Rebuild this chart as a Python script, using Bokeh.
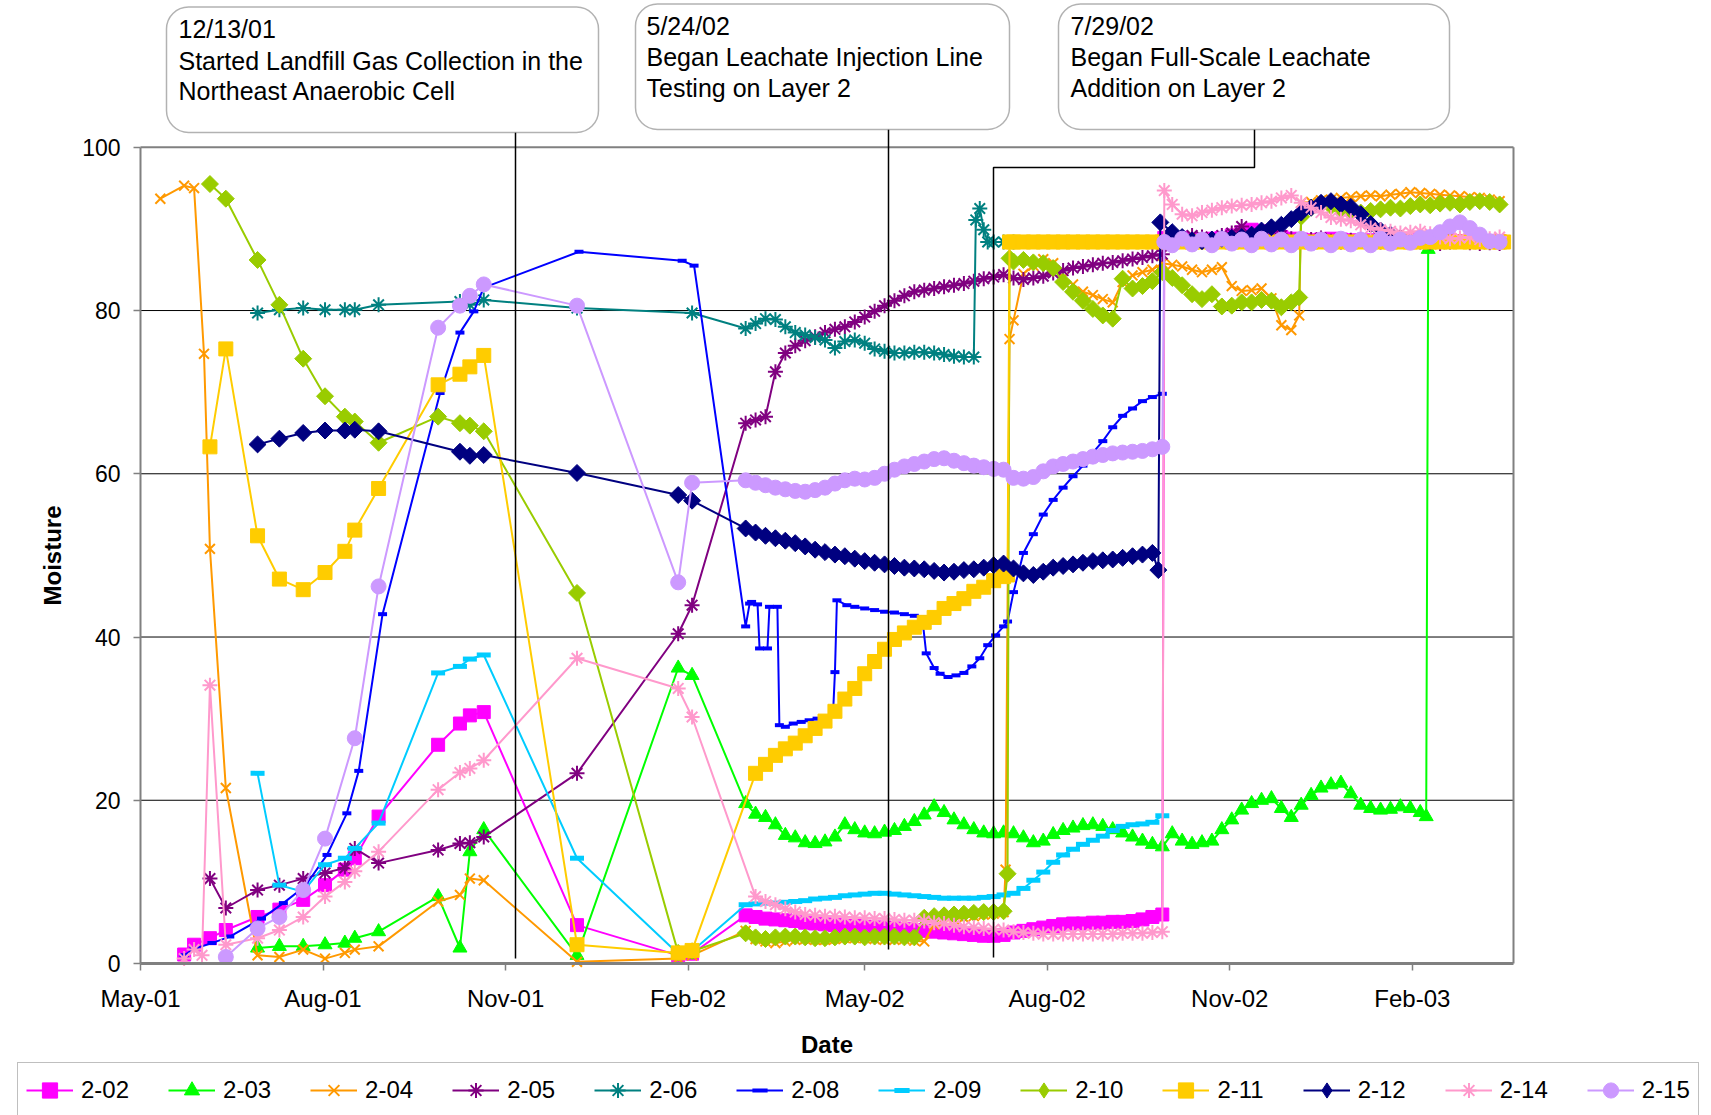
import numpy as np
import pandas as pd
from bokeh.plotting import figure
from bokeh.models import (Range1d, FixedTicker, DatetimeTickFormatter, Legend,
                          LegendItem, BoxAnnotation, Label)
from bokeh.embed import file_html
from bokeh.resources import INLINE

# ------------------------------------------------------------------ data
# x values are sample days counted from START_DATE
START_DATE = "2001-05-01"
AXIS_END_DAY = 692
TICK_DATES = ["2001-05-01", "2001-08-01", "2001-11-01", "2002-02-01",
              "2002-05-01", "2002-08-01", "2002-11-01", "2003-02-01"]
Y_TICKS = [0, 20, 40, 60, 80, 100]
SERIES = ["2-02", "2-03", "2-04", "2-05", "2-06", "2-08",
          "2-09", "2-10", "2-11", "2-12", "2-14", "2-15"]

# regular sampling-day grids of the probe logging periods
GRID_A = list(range(305, 440, 5))
GRID_A24 = list(range(305, 425, 5))
GRID_A2 = list(range(310, 440, 5))
GRID_B = list(range(440, 520, 5))
GRID_B15 = list(range(440, 515, 5))
GRID_B445 = list(range(445, 520, 5))
GRID_T = list(range(520, 690, 5))
GRID_T1 = list(range(520, 585, 5))
GRID_T2 = list(range(590, 690, 5))
GRID_T3 = list(range(520, 650, 5))
GRID_TN = list(range(520, 645, 5))

d202 = [22, 27, 35, 43, 59, 70, 82, 93, 103, 108, 120, 150, 161, 166, 173, 220, 271, 278] + GRID_A + GRID_B + [516] + GRID_T
v202 = ([1.1, 2.3, 3.1, 4.1, 5.7, 6.6, 7.8, 9.6, 11.5, 12.9, 18.0, 26.8, 29.4, 30.4, 30.8, 4.7, 1.0, 1.2]
        + [5.9, 5.7, 5.5, 5.4, 5.3, 5.2, 5.0, 4.9, 4.8, 4.7, 4.6, 4.6, 4.5, 4.4, 4.4, 4.3, 4.2, 4.1, 4.0, 3.9, 3.8, 3.7, 3.6, 3.5, 3.4, 3.4, 3.5]
        + [3.8, 4.0, 4.2, 4.4, 4.6, 4.8, 4.9, 4.9, 5.0, 5.0, 5.1, 5.1, 5.2, 5.4, 5.7, 6.0]
        + [88.9]
        + [88.8, 88.9, 88.7, 88.6, 88.8, 88.9, 89.2, 89.6, 89.9, 89.7, 89.4, 89.0, 88.8, 88.7, 88.6, 88.7, 88.8,
           88.7, 88.6, 88.5, 88.6, 88.7, 88.6, 88.5, 88.6, 88.5, 88.6, 88.7, 88.6, 88.5, 88.5, 88.6, 88.5, 88.5])

d203 = [59, 70, 82, 93, 103, 108, 120, 150, 161, 166, 173, 220, 271, 278] + GRID_A + GRID_B + GRID_T3 + [648, 649, 655, 660, 665, 670, 675, 680, 685]
v203 = ([1.9, 2.1, 2.1, 2.3, 2.5, 3.1, 3.9, 8.2, 1.9, 13.7, 16.4, 1.0, 36.2, 35.3]
        + [19.6, 18.3, 17.9, 17.0, 15.7, 15.4, 14.8, 14.7, 14.9, 15.5, 17.0, 16.4, 16.0, 15.9, 16.1, 16.3, 16.8, 17.4, 18.2, 19.2, 18.5, 17.6, 17.0, 16.4, 16.0, 15.9, 16.0]
        + [15.9, 15.4, 14.8, 15.0, 15.8, 16.3, 16.6, 16.9, 17.0, 16.8, 16.4, 16.0, 15.5, 15.0, 14.6, 14.3]
        + [15.9, 15.0, 14.6, 14.8, 15.0, 16.4, 17.6, 18.8, 19.6, 20.0, 20.2, 19.0, 17.9, 19.4, 20.6, 21.5, 21.9, 22.1, 20.8, 19.4, 19.0, 18.8, 18.9, 19.2, 19.0, 18.5]
        + [18.0, 87.5, 88.3, 88.5, 88.3, 88.4, 88.3, 88.3, 88.2])

d204 = [10, 22, 27, 32, 35, 43, 59, 70, 82, 93, 103, 108, 120, 150, 161, 166, 173, 220, 271, 278] + GRID_A + [436, 438, 440] + GRID_B445 + GRID_T1 + [584, 585] + GRID_T2
v204 = ([93.7, 95.3, 95.0, 74.7, 50.8, 21.5, 1.0, 0.8, 1.7, 0.6, 1.3, 1.7, 2.1, 7.6, 8.4, 10.4, 10.2, 0.2, 0.6, 1.0]
        + [4.0, 3.0, 2.7, 2.5, 2.7, 2.9, 3.0, 2.9, 2.9, 3.0, 3.1, 3.1, 3.1, 3.0, 2.9, 2.9, 3.0, 2.8, 2.7, 4.8, 5.2, 5.4, 5.6, 5.8, 6.0, 6.1, 6.3]
        + [11.5, 76.5, 78.8]
        + [84.5, 85.5, 86.3, 85.8, 84.0, 83.2, 82.3, 81.9, 81.4, 81.0, 83.5, 84.3, 84.7, 85.0, 85.8]
        + [85.6, 85.4, 85.0, 84.7, 85.0, 85.3, 83.0, 82.4, 82.5, 82.7, 81.5, 78.2, 77.6]
        + [79.4, 93.2]
        + [93.3, 93.5, 93.6, 93.8, 93.9, 94.0, 94.1, 94.0, 94.2, 94.3, 94.5, 94.4, 94.3, 94.2, 94.1, 94.0, 93.9, 93.8, 93.6, 93.4])

d205 = [35, 43, 59, 70, 82, 93, 103, 108, 120, 150, 161, 166, 173, 220, 271, 278] + GRID_A + GRID_B + GRID_T
v205 = ([10.4, 6.8, 9.0, 9.6, 10.4, 11.1, 11.7, 14.1, 12.3, 13.9, 14.7, 14.8, 15.5, 23.3, 40.4, 43.9]
        + [66.2, 66.6, 67.0, 72.5, 74.8, 75.7, 76.3, 76.8, 77.3, 77.7, 78.0, 78.6, 79.2, 79.9, 80.6, 81.2, 81.8, 82.3, 82.5, 82.7, 82.9, 83.1, 83.3, 83.6, 83.9, 84.1, 84.4]
        + [84.0, 83.8, 84.0, 84.2, 84.6, 84.9, 85.2, 85.4, 85.6, 85.8, 85.9, 86.1, 86.3, 86.5, 86.7, 86.9]
        + [88.6, 88.9, 89.2, 89.0, 88.8, 89.2, 89.5, 90.3, 88.9, 88.7, 88.9, 89.2, 88.8, 88.6, 88.7, 88.9, 88.5,
           88.4, 88.6, 88.7, 88.5, 88.4, 88.3, 88.5, 88.6, 88.4, 88.3, 88.2, 88.4, 88.5, 88.3, 88.2, 88.3, 88.2])

d206 = [59, 70, 82, 93, 103, 108, 120, 161, 166, 173, 220, 278] + GRID_A24 + [421, 423, 425, 427, 430, 435, 440]
v206 = ([79.7, 80.1, 80.3, 80.1, 80.1, 80.1, 80.7, 81.1, 80.7, 81.3, 80.3, 79.7]
        + [77.8, 78.4, 79.0, 78.9, 78.0, 77.3, 77.0, 76.7, 76.4, 75.4, 76.2, 76.4, 76.0, 75.3, 75.0, 74.8, 74.8, 74.9, 74.9, 74.8, 74.6, 74.4, 74.3, 74.3]
        + [91.1, 92.5, 89.9, 88.4, 88.4, 88.4, 88.4])

d208 = ([22, 27, 36, 45, 61, 72, 83, 94, 104, 110, 122, 151, 161, 168, 173, 221, 273, 279]
        + [305, 307, 308, 311, 312, 316, 317, 321, 322, 325, 329, 333, 337, 341, 345, 349, 350, 351, 356, 360,
           365, 370, 375, 380, 385, 390, 394, 396, 400, 403, 407, 411, 415, 419, 423, 427, 431, 435, 437, 440,
           445, 450, 455, 460, 465, 470, 475, 480, 485, 490, 495, 500, 505, 510, 515])
v208 = ([1.0, 1.8, 2.5, 3.3, 5.5, 7.4, 9.5, 13.3, 18.4, 23.6, 42.8, 69.9, 77.3, 79.9, 82.8, 87.2, 86.1, 85.5]
        + [41.3, 44.1, 44.3, 44.0, 38.6, 38.6, 43.7, 43.7, 29.2, 29.0, 29.4, 29.6, 29.8, 30.0, 30.2, 30.4, 35.7, 44.5, 43.9, 43.7,
           43.5, 43.3, 43.1, 43.0, 42.8, 42.6, 42.4, 38.0, 36.2, 35.5, 35.1, 35.3, 35.6, 36.4, 37.4, 39.0, 40.2, 41.3, 41.9, 45.5,
           50.3, 52.6, 55.0, 56.8, 58.3, 59.7, 61.0, 62.6, 64.0, 65.7, 67.1, 68.0, 68.9, 69.4, 69.8])

d209 = [59, 70, 82, 93, 103, 108, 120, 150, 161, 166, 173, 220, 271, 278] + GRID_A + GRID_B
v209 = ([23.3, 9.6, 8.8, 12.1, 12.9, 14.1, 17.2, 35.6, 36.4, 37.3, 37.8, 12.9, 1.2, 1.5]
        + [7.2, 7.3, 7.4, 7.4, 7.5, 7.6, 7.7, 7.9, 8.0, 8.1, 8.3, 8.4, 8.5, 8.6, 8.6, 8.5, 8.4, 8.3, 8.2, 8.1, 8.0, 8.0, 8.0, 8.0, 8.1, 8.2, 8.4]
        + [8.6, 9.2, 10.2, 11.2, 12.4, 13.3, 14.0, 14.6, 15.1, 15.6, 16.3, 16.8, 17.0, 17.1, 17.3, 18.1])

d210 = [35, 43, 59, 70, 82, 93, 103, 108, 120, 150, 161, 166, 173, 220, 271, 278] + GRID_A + [437, 438] + GRID_B + GRID_T1 + [584, 585] + GRID_T2
v210 = ([95.5, 93.7, 86.2, 80.7, 74.1, 69.5, 67.0, 66.4, 63.8, 67.0, 66.2, 65.9, 65.2, 45.4, 1.3, 1.5]
        + [3.7, 3.2, 3.0, 3.2, 3.3, 3.3, 3.2, 3.1, 3.1, 3.2, 3.3, 3.3, 3.2, 3.3, 3.3, 3.3, 3.2, 3.2, 5.6, 5.8, 5.9, 6.0, 6.1, 6.2, 6.3, 6.3, 6.4]
        + [11.0, 86.4]
        + [86.0, 86.2, 85.9, 85.8, 85.2, 83.5, 82.3, 81.2, 80.2, 79.4, 79.0, 83.9, 82.7, 83.0, 83.6, 84.7]
        + [84.0, 83.1, 82.0, 81.4, 82.0, 80.5, 80.6, 81.0, 81.0, 81.3, 81.2, 80.4, 81.0]
        + [81.6, 91.5]
        + [92.6, 93.0, 92.8, 92.4, 92.2, 92.0, 92.2, 92.4, 92.6, 92.5, 92.8, 93.0, 92.9, 93.1, 93.2, 93.0, 93.3, 93.4, 93.3, 93.0])

d211 = [35, 43, 59, 70, 82, 93, 103, 108, 120, 150, 161, 166, 173, 220, 271, 278] + GRID_A2 + [437, 438] + GRID_B + GRID_T + [687]
v211 = ([63.3, 75.3, 52.4, 47.1, 45.8, 47.9, 50.5, 53.1, 58.2, 70.9, 72.2, 73.1, 74.5, 2.3, 1.3, 1.6]
        + [23.3, 24.4, 25.5, 26.3, 27.0, 27.9, 28.8, 29.7, 30.9, 32.4, 33.7, 35.5, 37.0, 38.5, 39.7, 40.5, 41.2, 41.8, 42.4, 43.5, 44.1, 44.7, 45.6, 46.1, 46.9, 47.4]
        + [47.6, 88.4]
        + [88.4, 88.4, 88.4, 88.4, 88.4, 88.4, 88.4, 88.4, 88.4, 88.4, 88.4, 88.4, 88.4, 88.4, 88.4, 88.4]
        + [88.4, 88.4, 88.4, 88.4, 88.4, 88.4, 88.4, 88.4, 88.4, 88.4, 88.4, 88.4, 88.4, 88.4, 88.4, 88.4, 88.4,
           88.4, 88.4, 88.4, 88.4, 88.4, 88.4, 88.4, 88.4, 88.4, 88.4, 88.4, 88.4, 88.4, 88.4, 88.4, 88.4, 88.4]
        + [88.4])

d212 = [59, 70, 82, 93, 103, 108, 120, 161, 166, 173, 220, 271, 278] + GRID_A + GRID_B15 + [513, 514] + GRID_TN
v212 = ([63.6, 64.3, 65.0, 65.3, 65.3, 65.4, 65.2, 62.7, 62.2, 62.3, 60.1, 57.4, 56.7]
        + [53.3, 52.8, 52.4, 52.1, 51.8, 51.5, 51.1, 50.7, 50.4, 50.1, 49.9, 49.6, 49.3, 49.1, 48.9, 48.7, 48.5, 48.4, 48.3, 48.1, 47.9, 48.0, 48.2, 48.3, 48.5, 48.8, 49.0]
        + [48.4, 47.8, 47.6, 48.0, 48.5, 48.7, 48.9, 49.1, 49.3, 49.4, 49.5, 49.7, 49.9, 50.1, 50.3]
        + [48.2, 90.8]
        + [89.6, 89.0, 88.6, 88.5, 88.7, 88.8, 88.9, 89.0, 89.3, 89.8, 90.2, 90.5, 91.2, 92.0, 92.6, 93.2, 93.4, 93.0, 92.7, 91.8, 90.6, 89.8, 89.3, 88.9, 88.6])

d214 = [22, 27, 31, 35, 43, 59, 70, 82, 93, 103, 108, 120, 150, 161, 166, 173, 220, 271, 278] + GRID_A2 + GRID_B + [516] + GRID_T
v214 = ([0.6, 1.7, 1.0, 34.1, 2.3, 3.1, 4.1, 5.7, 8.2, 10.0, 11.3, 13.7, 21.3, 23.4, 23.9, 24.9, 37.4, 33.7, 30.2]
        + [8.2, 7.6, 7.2, 6.7, 6.3, 6.0, 5.9, 5.8, 5.8, 5.7, 5.6, 5.6, 5.5, 5.5, 5.4, 5.3, 5.3, 5.2, 5.0, 4.9, 4.7, 4.5, 4.4, 4.3, 4.2, 4.1]
        + [3.9, 3.8, 3.7, 3.6, 3.6, 3.6, 3.6, 3.6, 3.6, 3.6, 3.6, 3.7, 3.7, 3.7, 3.8, 3.9]
        + [94.7]
        + [93.0, 91.8, 91.6, 92.0, 92.3, 92.6, 92.8, 92.9, 93.0, 93.2, 93.4, 93.8, 94.1, 93.2, 92.6, 92.0, 91.4,
           91.2, 91.0, 90.5, 90.1, 89.9, 89.7, 89.5, 89.6, 89.7, 89.4, 89.0, 88.8, 88.9, 89.0, 88.7, 88.8, 89.0])

d215 = [43, 59, 70, 82, 93, 108, 120, 150, 161, 166, 173, 220, 271, 278] + GRID_A + GRID_B + [516] + GRID_T
v215 = ([0.8, 4.3, 5.7, 9.0, 15.3, 27.6, 46.2, 77.9, 80.6, 81.8, 83.2, 80.6, 46.7, 58.9]
        + [59.2, 58.9, 58.6, 58.3, 58.1, 57.9, 57.8, 58.0, 58.3, 58.8, 59.2, 59.4, 59.3, 59.5, 60.0, 60.5, 60.9, 61.2, 61.5, 61.8, 61.9, 61.6, 61.3, 61.0, 60.8, 60.6, 60.5]
        + [59.5, 59.4, 59.6, 60.3, 60.9, 61.2, 61.5, 61.8, 62.1, 62.3, 62.5, 62.6, 62.7, 62.8, 63.0, 63.3]
        + [88.4]
        + [88.0, 88.8, 88.1, 88.7, 88.0, 88.8, 88.2, 88.7, 88.0, 88.8, 88.1, 88.7, 88.0, 88.8, 88.2, 88.7, 88.0,
           88.8, 88.1, 88.7, 88.0, 88.8, 88.2, 88.7, 88.3, 88.9, 89.0, 89.6, 90.3, 90.8, 90.1, 89.3, 88.5, 88.4])

DATA = {"2-02": (d202, v202), "2-03": (d203, v203), "2-04": (d204, v204),
        "2-05": (d205, v205), "2-06": (d206, v206), "2-08": (d208, v208),
        "2-09": (d209, v209), "2-10": (d210, v210), "2-11": (d211, v211),
        "2-12": (d212, v212), "2-14": (d214, v214), "2-15": (d215, v215)}

# ------------------------------------------------------------------ styles
Q = np.pi / 4
STYLE = {  # color, marker, size, marker line width, angle, legend marker
    "2-02": ("#FF00FF", "square", 13, 1, 0, "square"),
    "2-03": ("#00FF00", "triangle", 14, 1, 0, "triangle"),
    "2-04": ("#FF9900", "x", 14, 2, 0, "x"),
    "2-05": ("#800080", "asterisk", 15, 2, 0, "asterisk"),
    "2-06": ("#008080", "asterisk", 15, 2, 0, "asterisk"),
    "2-08": ("#0000FF", "dash", 9, 4, 0, "dash"),
    "2-09": ("#00CCFF", "dash", 14, 5, 0, "dash"),
    "2-10": ("#99CC00", "square", 12, 1, Q, "diamond"),
    "2-11": ("#FFCC00", "square", 14, 1, 0, "square"),
    "2-12": ("#000080", "square", 12, 1, Q, "diamond"),
    "2-14": ("#FF99CC", "asterisk", 15, 2, 0, "asterisk"),
    "2-15": ("#CC99FF", "circle", 15, 1, 0, "circle"),
}
FONT = "Liberation Sans"

# ------------------------------------------------------------------ layout
# The plotting frame fills the whole canvas; the axes are pinned at the
# plot-area edges so the legend strip underneath can live in the frame too.
W, H = 1711, 1115
AREA_LEFT, AREA_RIGHT, AREA_BOTTOM = 140, 1513, 963   # plot-area edges, px
PX_PER_DAY = (AREA_RIGHT - AREA_LEFT) / AXIS_END_DAY
PX_PER_UNIT = 8.162

EPOCH = pd.Timestamp("1970-01-01")
T0_MS = (pd.Timestamp(START_DATE) - EPOCH) / pd.Timedelta(milliseconds=1)


def day_ms(days):
    return T0_MS + np.asarray(days, dtype=float) * 86400000.0


def px_x(page_px):
    return float(day_ms((page_px - AREA_LEFT) / PX_PER_DAY))


def px_y(page_py):
    return (AREA_BOTTOM - page_py) / PX_PER_UNIT


x_lo, x_hi = float(day_ms(0)), float(day_ms(AXIS_END_DAY))

p = figure(width=W, height=H, x_axis_type="datetime",
           x_range=Range1d(px_x(0), px_x(W)),
           y_range=Range1d(px_y(H), px_y(0)), output_backend="svg",
           toolbar_location=None, title=None, min_border=0,
           min_border_left=0, min_border_right=0,
           min_border_top=0, min_border_bottom=0)
p.outline_line_color = None
p.background_fill_color = "white"
p.border_fill_color = "white"

# x axis
ax = p.xaxis[0]
ax.fixed_location = 0
ax.bounds = (x_lo, x_hi)
ax.ticker = FixedTicker(ticks=[(pd.Timestamp(t) - EPOCH) / pd.Timedelta(milliseconds=1) for t in TICK_DATES])
ax.formatter = DatetimeTickFormatter(days="%b-%y", months="%b-%y", years="%b-%y")
ax.axis_line_color = "#808080"
ax.axis_line_width = 3
ax.major_tick_line_color = "#808080"
ax.major_tick_line_width = 1.5
ax.major_tick_out = 7
ax.major_tick_in = 0
ax.minor_tick_line_color = None
ax.major_label_text_font = FONT
ax.major_label_text_font_size = "24px"
ax.major_label_text_color = "black"
ax.major_label_standoff = 14
ax.axis_label = "Date"
ax.axis_label_text_font = FONT
ax.axis_label_text_font_size = "24px"
ax.axis_label_text_font_style = "bold"
ax.axis_label_text_color = "black"
ax.axis_label_standoff = 16

# y axis
ay = p.yaxis[0]
ay.fixed_location = x_lo
ay.bounds = (0, 100)
ay.ticker = FixedTicker(ticks=Y_TICKS)
ay.axis_line_color = "#808080"
ay.axis_line_width = 2
ay.major_tick_line_color = "#808080"
ay.major_tick_line_width = 1.5
ay.major_tick_out = 7
ay.major_tick_in = 0
ay.minor_tick_line_color = None
ay.major_label_text_font = FONT
ay.major_label_text_font_size = "23px"
ay.major_label_text_color = "black"
ay.major_label_standoff = 13
ay.axis_label = "Moisture"
ay.axis_label_text_font = FONT
ay.axis_label_text_font_size = "24px"
ay.axis_label_text_font_style = "bold"
ay.axis_label_text_color = "black"
ay.axis_label_standoff = 13

p.xgrid.visible = False
p.ygrid.visible = False

# horizontal gridlines and the top/right edges of the plot area
for gy in Y_TICKS[1:-1]:
    p.line([x_lo, x_hi], [gy, gy], line_color="#000000", line_width=1)
p.line([x_lo, x_hi], [100, 100], line_color="#808080", line_width=2)
p.line([x_hi, x_hi], [0, 100], line_color="#808080", line_width=2)

# series
items = []
off_x, off_y = px_x(-400), px_y(-400)   # legend-only marker glyphs sit off canvas
for name in SERIES:
    days, vals = DATA[name]
    if len(days) != len(vals):
        raise ValueError(f"{name}: {len(days)} days vs {len(vals)} values")
    color, marker, size, mlw, ang, leg_marker = STYLE[name]
    xs = day_ms(days)
    lr = p.line(xs, vals, line_color=color, line_width=2)
    p.scatter(xs, vals, marker=marker, size=size, angle=ang,
              fill_color=color, line_color=color, line_width=mlw)
    key = p.scatter([off_x], [off_y], marker=leg_marker, size=size,
                    fill_color=color, line_color=color, line_width=mlw)
    items.append(LegendItem(label=name, renderers=[lr, key]))

# callout boxes
BOXES = [
    (166, 598, 6.5, 132, 178, [28.4, 60.0, 90.6],
     ["12/13/01", "Started Landfill Gas Collection in the", "Northeast Anaerobic Cell"]),
    (635, 1009, 3.5, 129, 646, [25.1, 56.7, 87.3],
     ["5/24/02", "Began Leachate Injection Line", "Testing on Layer 2"]),
    (1058, 1449, 3.5, 129, 1070, [25.1, 56.7, 87.3],
     ["7/29/02", "Began Full-Scale Leachate", "Addition on Layer 2"]),
]
for l, r, t, b, tx, tys, lines in BOXES:
    p.add_layout(BoxAnnotation(left=px_x(l), right=px_x(r), top=px_y(t), bottom=px_y(b),
                               fill_color="white", fill_alpha=1, line_color="black",
                               line_width=1.5, border_radius=22))
    for ty, txt in zip(tys, lines):
        p.add_layout(Label(x=px_x(tx), y=px_y(ty), text=txt, text_font=FONT,
                           text_font_size="25px", text_baseline="middle",
                           text_color="black"))

# leader lines
p.line([px_x(515), px_x(515)], [px_y(132), px_y(958)], line_color="black", line_width=1.5)
p.line([px_x(888), px_x(888)], [px_y(129), px_y(949)], line_color="black", line_width=1.5)
p.line([px_x(1254), px_x(1254), px_x(993), px_x(993)],
       [px_y(129), px_y(167), px_y(167), px_y(957)], line_color="black", line_width=1.5)

# legend strip at the bottom (its box runs off the lower edge as in the original)
LEG_PAD, LEG_GLYPH_H = 8, 38
LEG_TOP, LEG_LEFT = 1064, 17
legend = Legend(items=items, orientation="horizontal",
                location=(LEG_LEFT, H - LEG_TOP - (2 * LEG_PAD + LEG_GLYPH_H)),
                label_text_font=FONT, label_text_font_size="24px",
                label_text_color="black",
                glyph_width=47, glyph_height=LEG_GLYPH_H, label_standoff=8, spacing=39,
                padding=LEG_PAD, margin=0, border_line_color="#808080",
                border_line_width=1.5, background_fill_color="white",
                background_fill_alpha=1)
p.add_layout(legend)

open("out.html", "w").write(file_html(p, INLINE))
